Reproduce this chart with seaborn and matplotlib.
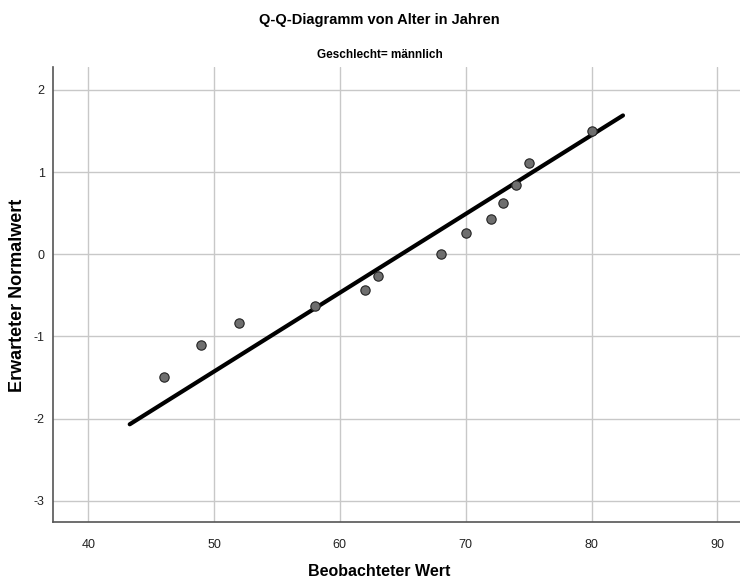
import numpy as np
import pandas as pd
import seaborn as sns
import matplotlib.pyplot as plt

alter = [46, 49, 52, 58, 62, 63, 68, 70, 72, 73, 74, 75, 80]
erwartet = [-1.50, -1.11, -0.84, -0.63, -0.43, -0.26, 0.00, 0.26, 0.43, 0.63, 0.84, 1.11, 1.50]

# reference line end points
linie_x = [43.3, 82.5]
linie_y = [-2.07, 1.69]

x_ticks = [40, 50, 60, 70, 80, 90]
y_ticks = [-3, -2, -1, 0, 1, 2]

df = pd.DataFrame({"Alter": alter, "Erwartet": erwartet})

sns.set_style("white")
plt.rcParams["font.family"] = ["Liberation Sans", "DejaVu Sans"]
plt.rcParams["axes.unicode_minus"] = False

fig = plt.figure(figsize=(7.4, 5.81), dpi=100)
ax = fig.add_axes([0.0716, 0.1015, 0.9284, 0.7832])

ax.set_xlim(37.2, 91.8)
ax.set_ylim(-3.26, 2.28)
ax.set_xticks(x_ticks)
ax.set_yticks(y_ticks)
ax.grid(True, color="#c8c8c8", linewidth=1.0)
ax.set_axisbelow(True)

sns.lineplot(x=linie_x, y=linie_y, color="black", linewidth=3, ax=ax, zorder=2)
sns.scatterplot(data=df, x="Alter", y="Erwartet", ax=ax, s=45, color="#6e6e6e",
                edgecolor="#222222", linewidth=0.8, zorder=3)

for side in ["top", "right"]:
    ax.spines[side].set_visible(False)
for side in ["left", "bottom"]:
    ax.spines[side].set_color("#555555")
    ax.spines[side].set_linewidth(1.2)

ax.tick_params(axis="both", length=0, labelsize=9, colors="#222222")
ax.tick_params(axis="x", pad=12)
ax.tick_params(axis="y", pad=6)
ax.set_xlabel("")
ax.set_ylabel("")

fig.text(0.513, 1 - 571 / 581, "Beobachteter Wert", fontsize=11.5,
         fontweight="bold", ha="center", va="center", color="black")
fig.text(18 / 740, 1 - 295 / 581, "Erwarteter Normalwert", fontsize=13,
         fontweight="bold", ha="center", va="center", rotation=90, color="black")
fig.text(0.513, 1 - 20 / 581, "Q-Q-Diagramm von Alter in Jahren",
         fontsize=10.5, fontweight="bold", ha="center", va="center", color="black")
fig.text(0.513, 1 - 55 / 581, "Geschlecht= männlich",
         fontsize=8.5, fontweight="bold", ha="center", va="center", color="black")

fig.savefig("out.png", dpi=100)
